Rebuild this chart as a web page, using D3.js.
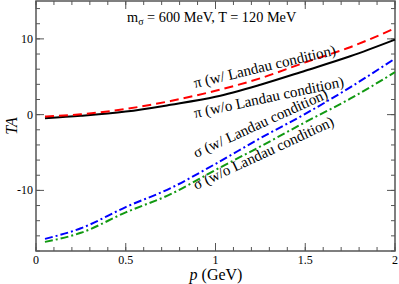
<!DOCTYPE html>
<html><head><meta charset="utf-8">
<script src="https://cdn.jsdelivr.net/npm/d3@7"></script>
<style>body{margin:0;background:#fff}svg{display:block}text{font-family:"Liberation Serif","Times New Roman",serif}</style>
</head><body>
<script>
const pVals = [0.05, 0.25, 0.5, 0.75, 1.0, 1.25, 1.5, 1.75, 2.0];
const piWithLandau = [-0.26, 0.05, 0.75, 1.8, 3.15, 4.8, 6.9, 8.9, 11.4];
const piWithoutLandau = [-0.47, -0.15, 0.4, 1.3, 2.35, 3.95, 5.8, 7.7, 9.9];
const sigmaWithLandau = [-16.4, -15.0, -12.2, -9.7, -6.5, -3.1, 0.1, 3.6, 7.4];
const sigmaWithoutLandau = [-16.8, -15.6, -12.9, -10.5, -7.3, -4.2, -1.0, 2.1, 5.6];
const xTicks = [0, 0.5, 1, 1.5, 2];
const xTickLabels = ["0", "0.5", "1", "1.5", "2"];
const yTicks = [-10, 0, 10];
const yTickLabels = ["-10", "0", "10"];

const W = 399, H = 284;
const m = {l: 36, r: 4, t: 1, b: 33};
const svg = d3.select("body").append("svg").attr("width", W).attr("height", H);
const x = d3.scaleLinear().domain([0, 2]).range([m.l, W - m.r]);
const y = d3.scaleLinear().domain([-18, 15]).range([H - m.b, m.t]);
const axisColor = "#555";

const g = svg.append("g");
const xMinor = d3.range(0, 2.0001, 0.1);
const yMinor = d3.range(-18, 15.0001, 2);
function tickLines(vals, isX, len, side) {
  vals.forEach(v => {
    if (isX) {
      const px = x(v);
      const y0 = side === "b" ? y(-18) : y(15);
      const dir = side === "b" ? -1 : 1;
      g.append("line").attr("x1", px).attr("x2", px).attr("y1", y0).attr("y2", y0 + dir * len)
        .attr("stroke", axisColor).attr("stroke-width", 1);
    } else {
      const py = y(v);
      const x0 = side === "l" ? x(0) : x(2);
      const dir = side === "l" ? 1 : -1;
      g.append("line").attr("x1", x0).attr("x2", x0 + dir * len).attr("y1", py).attr("y2", py)
        .attr("stroke", axisColor).attr("stroke-width", 1);
    }
  });
}
tickLines(xMinor, true, 4, "b"); tickLines(xMinor, true, 4, "t");
tickLines(xTicks, true, 8, "b"); tickLines(xTicks, true, 8, "t");
tickLines(yMinor, false, 4, "l"); tickLines(yMinor, false, 4, "r");
tickLines(yTicks, false, 8, "l"); tickLines(yTicks, false, 8, "r");

g.append("rect").attr("x", x(0)).attr("y", y(15)).attr("width", x(2) - x(0)).attr("height", y(-18) - y(15))
  .attr("fill", "none").attr("stroke", axisColor).attr("stroke-width", 1.5);

xTicks.forEach((v, i) => {
  svg.append("text").attr("x", x(v)).attr("y", y(-18) + 13).attr("text-anchor", "middle")
    .attr("font-size", 12).text(xTickLabels[i]);
});
yTicks.forEach((v, i) => {
  svg.append("text").attr("x", x(0) - 3).attr("y", y(v) + 4).attr("text-anchor", "end")
    .attr("font-size", 12).text(yTickLabels[i]);
});

const xt = svg.append("text").attr("x", 216).attr("y", 280).attr("text-anchor", "middle").attr("font-size", 16);
xt.append("tspan").attr("font-style", "italic").text("p");
xt.append("tspan").text(" (GeV)");
svg.append("text").attr("transform", "translate(17," + y(-1.5) + ") rotate(-90)").attr("text-anchor", "middle")
  .attr("font-size", 16).attr("font-style", "italic").text("TA");

const series = [
  {vals: sigmaWithoutLandau, color: "#119911", dash: "8,3,2,3"},
  {vals: sigmaWithLandau, color: "#0000ff", dash: "8,3,2,3"},
  {vals: piWithoutLandau, color: "#000000", dash: null},
  {vals: piWithLandau, color: "#ff0000", dash: "9,5"}
];
const line = d3.line().x(d => x(d[0])).y(d => y(d[1])).curve(d3.curveMonotoneX);
series.forEach(s => {
  const p = svg.append("path").datum(pVals.map((pv, i) => [pv, s.vals[i]]))
    .attr("d", line).attr("fill", "none").attr("stroke", s.color).attr("stroke-width", 2);
  if (s.dash) p.attr("stroke-dasharray", s.dash);
});

const t1 = svg.append("text").attr("x", 127).attr("y", 22).attr("font-size", 14.3);
t1.append("tspan").text("m");
t1.append("tspan").attr("font-size", 10).attr("dy", 3).text("σ");
t1.append("tspan").attr("dy", -3).text(" = 600 MeV, T = 120 MeV");

const labels = [
  {txt: "π (w/ Landau condition)", x: 195, y: 88, a: -13.3},
  {txt: "π (w/o Landau condition)", x: 195, y: 118, a: -12},
  {txt: "σ (w/ Landau condition)", x: 196, y: 158, a: -24.5},
  {txt: "σ (w/o Landau condition)", x: 196, y: 190, a: -25}
];
labels.forEach(l => {
  svg.append("text").attr("transform", `translate(${l.x},${l.y}) rotate(${l.a})`)
    .attr("font-size", 15).text(l.txt);
});
</script>
</body></html>
